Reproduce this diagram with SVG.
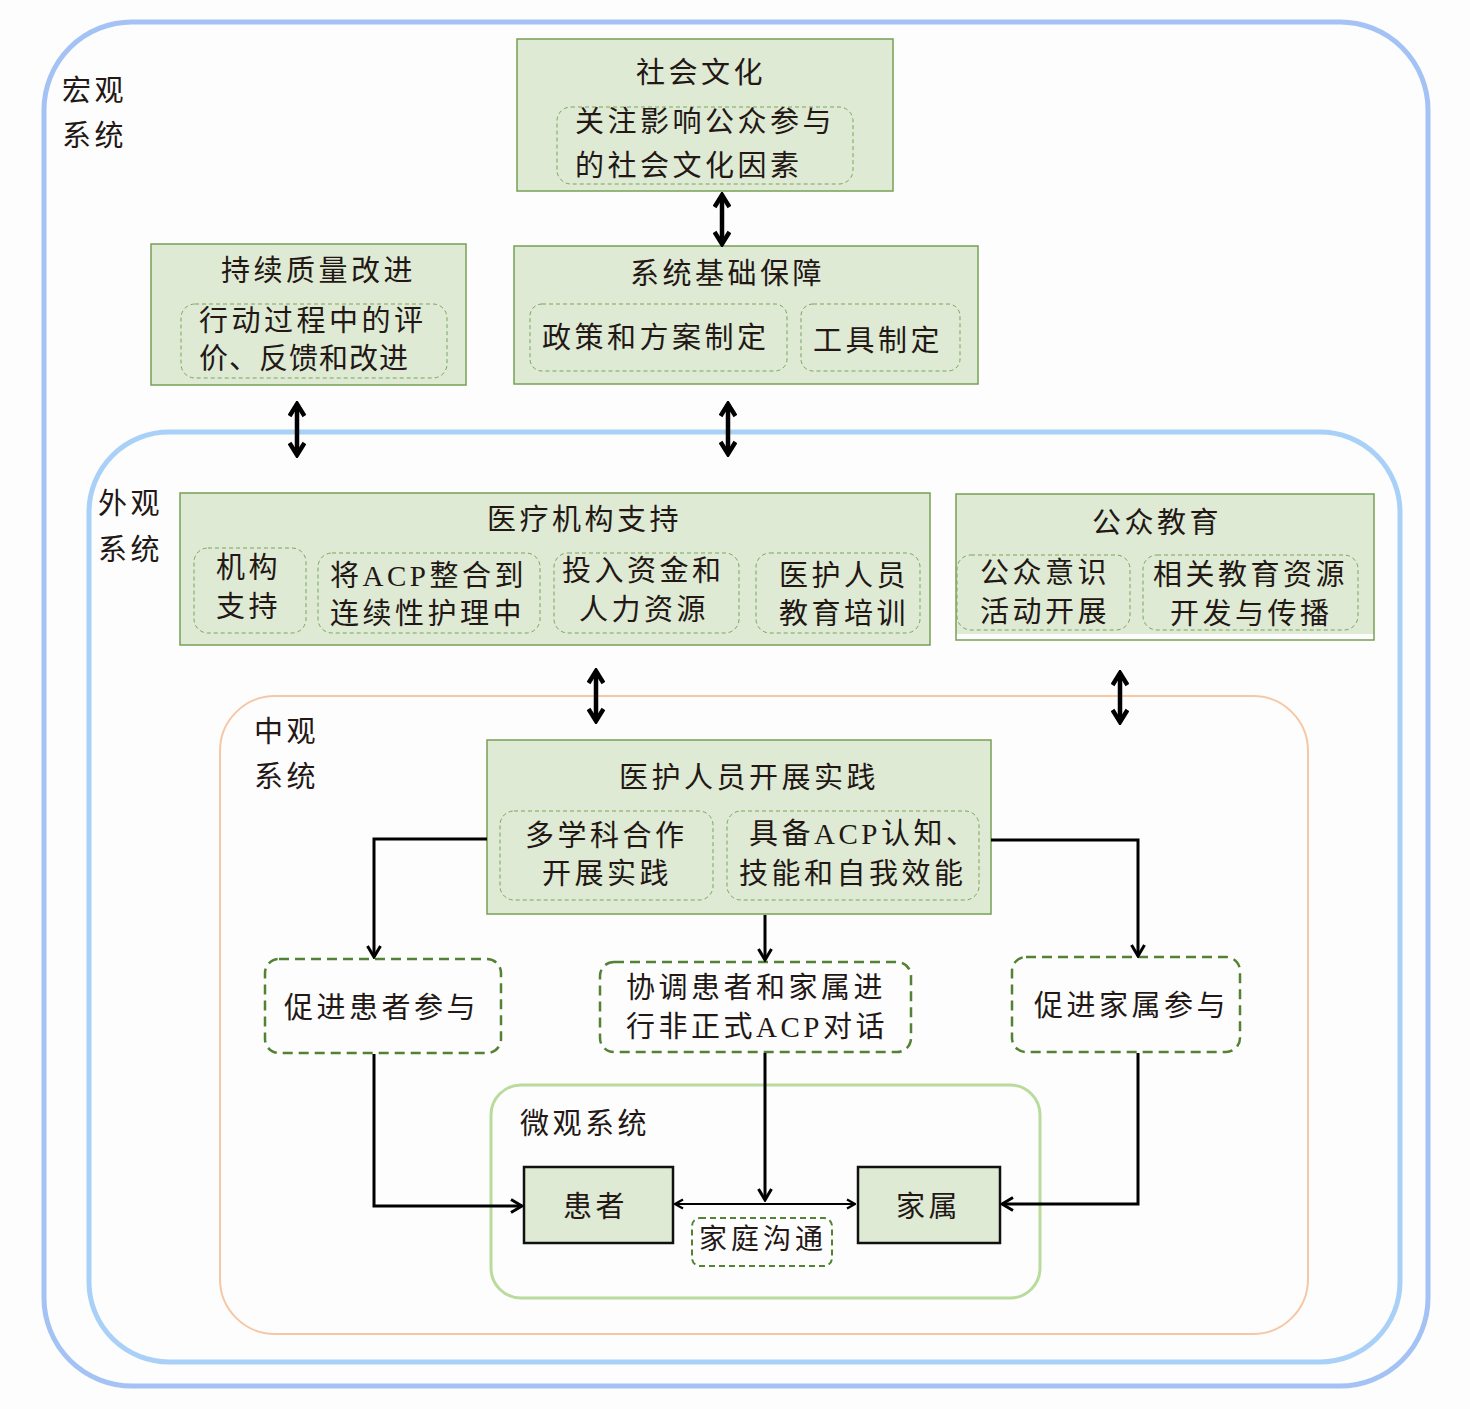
<svg xmlns="http://www.w3.org/2000/svg" width="1470" height="1409" viewBox="0 0 1470 1409">
<style>
text{font-family:"Liberation Serif","Noto Sans CJK SC",serif;font-size:29px;fill:#231815;letter-spacing:3.5px}
.box{fill:#deead4;stroke:#77a056;stroke-width:1.5}
.sub{fill:none;stroke:#7aa55a;stroke-width:1;stroke-dasharray:4 3}
.dbox{fill:#fdfdfd;stroke:#548235;stroke-width:2.5;stroke-dasharray:10 6}
.pbox{fill:#deead4;stroke:#111;stroke-width:2.5}
.big{fill:none;stroke:#000;stroke-width:4.5}
.con{fill:none;stroke:#000;stroke-width:3}
.thin{fill:none;stroke:#000;stroke-width:2}
</style>
<defs>
<marker id="dh" viewBox="0 0 18 18" refX="15" refY="9" markerWidth="18" markerHeight="18" markerUnits="userSpaceOnUse" orient="auto-start-reverse"><path d="M3,1.5 L15,9 L3,16.5" fill="none" stroke="#000" stroke-width="4.5"/></marker>
<marker id="ah" viewBox="0 0 16 16" refX="14" refY="8" markerWidth="16" markerHeight="16" markerUnits="userSpaceOnUse" orient="auto-start-reverse"><path d="M3,1.5 L14,8 L3,14.5" fill="none" stroke="#000" stroke-width="3"/></marker>
<marker id="sh" viewBox="0 0 12 12" refX="11" refY="6" markerWidth="12" markerHeight="12" markerUnits="userSpaceOnUse" orient="auto-start-reverse"><path d="M3,1.5 L11,6 L3,10.5" fill="none" stroke="#000" stroke-width="2.2"/></marker>
</defs>
<rect width="1470" height="1409" fill="#fdfdfd"/>

<g id="macro">
<rect x="44" y="22" width="1384" height="1364" rx="88" fill="#fdfdfd" stroke="#a4c2f4" stroke-width="5"/>
<text x="62" y="101">宏观</text><text x="62" y="146">系统</text>
</g>
<g id="exo">
<rect x="89" y="432" width="1311" height="930" rx="80" fill="#fdfdfd" stroke="#a9d1f7" stroke-width="5"/>
<text x="98" y="514">外观</text><text x="98" y="560">系统</text>
</g>
<g id="meso">
<rect x="220" y="696" width="1088" height="638" rx="55" fill="#fdfdfd" stroke="#f6c7a5" stroke-width="2"/>
<text x="254" y="742">中观</text><text x="254" y="787">系统</text>
</g>
<g id="micro">
<rect x="491" y="1085" width="549" height="213" rx="30" fill="none" stroke="#b9db9c" stroke-width="3"/>
<text x="520" y="1134">微观系统</text>
</g>

<g id="social-culture">
<rect class="box" x="517" y="39" width="376" height="152"/>
<text x="636" y="83">社会文化</text>
<rect class="sub" x="557" y="107" width="296" height="77" rx="14"/>
<text x="575" y="132">关注影响公众参与</text>
<text x="575" y="176">的社会文化因素</text>
</g>

<g id="system-support">
<rect class="box" x="514" y="246" width="464" height="138"/>
<text x="630" y="284">系统基础保障</text>
<rect class="sub" x="530" y="304" width="257" height="67" rx="12"/>
<text x="542" y="348">政策和方案制定</text>
<rect class="sub" x="801" y="304" width="159" height="67" rx="12"/>
<text x="813" y="351">工具制定</text>
</g>

<g id="quality">
<rect class="box" x="151" y="244" width="315" height="141"/>
<text x="221" y="281">持续质量改进</text>
<rect class="sub" x="181" y="304" width="266" height="74" rx="14"/>
<text x="199" y="331">行动过程中的评</text>
<text x="199" y="369" style="letter-spacing:1px">价、反馈和改进</text>
</g>

<g id="institution">
<rect class="box" x="180" y="493" width="750" height="152"/>
<text x="487" y="530">医疗机构支持</text>
<rect class="sub" x="194" y="548" width="112" height="85" rx="14"/>
<text x="216" y="578">机构</text><text x="216" y="617">支持</text>
<rect class="sub" x="318" y="553" width="222" height="80" rx="14"/>
<text x="330" y="586">将ACP整合到</text><text x="330" y="624">连续性护理中</text>
<rect class="sub" x="554" y="553" width="185" height="80" rx="14"/>
<text x="562" y="581">投入资金和</text><text x="579" y="620">人力资源</text>
<rect class="sub" x="756" y="553" width="164" height="80" rx="14"/>
<text x="779" y="586">医护人员</text><text x="779" y="624">教育培训</text>
</g>

<g id="public-edu">
<rect x="956" y="494" width="418" height="140" fill="#deead4"/>
<rect x="956" y="494" width="418" height="146" fill="none" stroke="#77a056" stroke-width="1.5"/>
<text x="1092" y="533">公众教育</text>
<rect class="sub" x="957" y="555" width="173" height="75" rx="14"/>
<text x="980" y="583">公众意识</text><text x="980" y="622">活动开展</text>
<rect class="sub" x="1143" y="555" width="215" height="75" rx="14"/>
<text x="1153" y="585">相关教育资源</text><text x="1170" y="624">开发与传播</text>
</g>

<g id="practice">
<rect class="box" x="487" y="740" width="504" height="174"/>
<text x="619" y="788">医护人员开展实践</text>
<rect class="sub" x="500" y="811" width="213" height="89" rx="14"/>
<text x="525" y="846">多学科合作</text><text x="542" y="884">开展实践</text>
<rect class="sub" x="727" y="811" width="252" height="89" rx="14"/>
<text x="749" y="844">具备ACP认知、</text><text x="739" y="884">技能和自我效能</text>
</g>

<g id="patient-engage">
<rect class="dbox" x="265" y="959" width="236" height="94" rx="14"/>
<text x="284" y="1018">促进患者参与</text>
</g>
<g id="coordinate">
<rect class="dbox" x="600" y="962" width="311" height="90" rx="14"/>
<text x="626" y="998">协调患者和家属进</text>
<text x="626" y="1037">行非正式ACP对话</text>
</g>
<g id="family-engage">
<rect class="dbox" x="1012" y="957" width="228" height="95" rx="14"/>
<text x="1034" y="1016">促进家属参与</text>
</g>

<g id="patient">
<rect class="pbox" x="524" y="1167" width="149" height="76"/>
<text x="563" y="1217">患者</text>
</g>
<g id="family">
<rect class="pbox" x="858" y="1167" width="142" height="76"/>
<text x="896" y="1217">家属</text>
</g>
<g id="family-comm">
<rect x="692" y="1218" width="140" height="48" rx="8" fill="#fdfdfd" stroke="#548235" stroke-width="2" stroke-dasharray="6 4"/>
<text x="699" y="1249" style="font-size:28px;letter-spacing:4px">家庭沟通</text>
</g>

<g id="connectors">
<line class="big" x1="722" y1="195" x2="722" y2="244" marker-start="url(#dh)" marker-end="url(#dh)"/>
<line class="big" x1="297" y1="404" x2="297" y2="455" marker-start="url(#dh)" marker-end="url(#dh)"/>
<line class="big" x1="728" y1="404" x2="728" y2="454" marker-start="url(#dh)" marker-end="url(#dh)"/>
<line class="big" x1="596" y1="671" x2="596" y2="721" marker-start="url(#dh)" marker-end="url(#dh)"/>
<line class="big" x1="1120" y1="673" x2="1120" y2="722" marker-start="url(#dh)" marker-end="url(#dh)"/>
<path class="con" d="M487,839 H374 V957" marker-end="url(#ah)"/>
<path class="con" d="M991,840 H1138 V956" marker-end="url(#ah)"/>
<path class="con" d="M765,915 V960" marker-end="url(#ah)"/>
<path class="con" d="M374,1054 V1206 H522" marker-end="url(#ah)"/>
<path class="con" d="M765,1053 V1200" marker-end="url(#ah)"/>
<path class="con" d="M1138,1053 V1204 H1002" marker-end="url(#ah)"/>
<line class="thin" x1="675" y1="1204" x2="855" y2="1204" marker-start="url(#sh)" marker-end="url(#sh)"/>
</g>
</svg>
